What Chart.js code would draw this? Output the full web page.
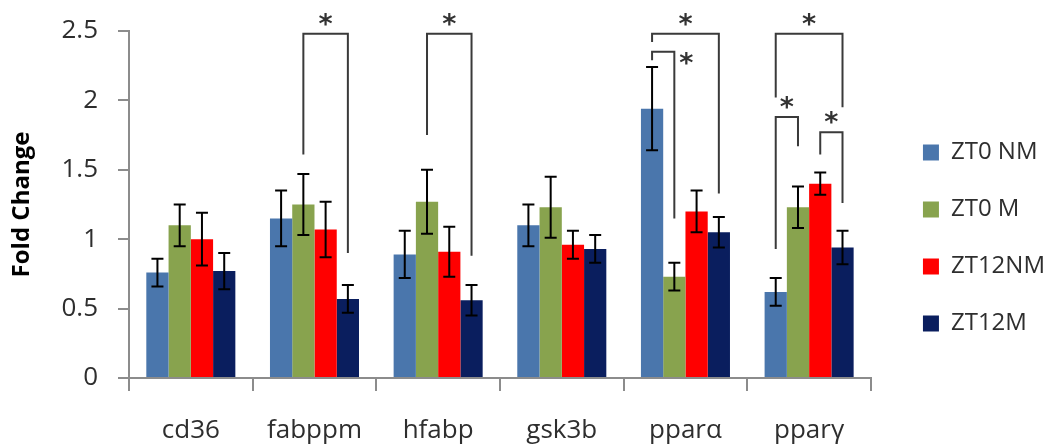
<!DOCTYPE html>
<html>
<head>
<meta charset="utf-8">
<script src="https://cdn.jsdelivr.net/npm/chart.js@4"></script>
<style>
  html, body { margin: 0; padding: 0; background: #fff; }
  #wrap { width: 1053px; height: 445px; }
</style>
</head>
<body>
<div id="wrap"><canvas id="foldChart"></canvas></div>
<script>
// Values
const categories = ['cd36', 'fabppm', 'hfabp', 'gsk3b', 'pparα', 'pparγ'];
const seriesNames = ['ZT0 NM', 'ZT0 M', 'ZT12NM', 'ZT12M'];
const zt0NM = [0.76, 1.15, 0.89, 1.10, 1.94, 0.62];
const zt0M = [1.10, 1.25, 1.27, 1.23, 0.73, 1.23];
const zt12NM = [1.00, 1.07, 0.91, 0.96, 1.20, 1.40];
const zt12M = [0.77, 0.57, 0.56, 0.93, 1.05, 0.94];
const zt0NMErr = [0.10, 0.20, 0.17, 0.15, 0.30, 0.10];
const zt0MErr = [0.15, 0.22, 0.23, 0.22, 0.10, 0.15];
const zt12NMErr = [0.19, 0.20, 0.18, 0.10, 0.15, 0.08];
const zt12MErr = [0.13, 0.10, 0.11, 0.10, 0.11, 0.12];
const yTicks = [0, 0.5, 1, 1.5, 2, 2.5];

// significance brackets: category, bar from/to, top value, leg end values
const brackets = [
  { cat: 1, from: 1, to: 3, top: 2.48, fromEnd: 1.61, toEnd: 0.90, star: 'top' },
  { cat: 2, from: 1, to: 3, top: 2.48, fromEnd: 1.75, toEnd: 0.88, star: 'top' },
  { cat: 4, from: 0, to: 3, top: 2.48, fromEnd: 2.42, toEnd: 1.33, star: 'top' },
  { cat: 4, from: 0, to: 1, top: 2.35, fromEnd: 2.29, toEnd: 1.15, star: 'right' },
  { cat: 5, from: 0, to: 3, top: 2.48, fromEnd: 2.02, toEnd: 1.95, star: 'top' },
  { cat: 5, from: 0, to: 1, top: 1.88, fromEnd: 0.93, toEnd: 1.67, star: 'top' },
  { cat: 5, from: 2, to: 3, top: 1.77, fromEnd: 1.61, toEnd: 1.26, star: 'top' },
];

const colors = ['#4A76AC', '#88A34E', '#FF0000', '#0A1E5E'];
const values = [zt0NM, zt0M, zt12NM, zt12M];
const errors = [zt0NMErr, zt0MErr, zt12NMErr, zt12MErr];
const axisGray = '#8C8C8C';
const textColor = '#2e2e2e';

// error bars + brackets drawn after datasets
const annotations = {
  id: 'annotations',
  afterLayout(chart) {
    // push the legend a bit away from the plot
    chart.legend.left += 19;
    chart.legend.right += 19;
  },
  afterDatasetsDraw(chart) {
    const c = chart.ctx;
    const y = chart.scales.y;
    c.save();
    c.strokeStyle = '#000';
    c.lineWidth = 2;
    values.forEach((vals, di) => {
      const meta = chart.getDatasetMeta(di);
      meta.data.forEach((bar, i) => {
        const yt = y.getPixelForValue(vals[i] + errors[di][i]);
        const yb = y.getPixelForValue(vals[i] - errors[di][i]);
        c.beginPath();
        c.moveTo(bar.x, yt); c.lineTo(bar.x, yb);
        c.moveTo(bar.x - 6, yt); c.lineTo(bar.x + 6, yt);
        c.moveTo(bar.x - 6, yb); c.lineTo(bar.x + 6, yb);
        c.stroke();
      });
    });
    c.strokeStyle = '#3a3a3a';
    c.fillStyle = '#333';
    c.font = 'bold 27px "DejaVu Sans"';
    c.textAlign = 'center';
    c.textBaseline = 'alphabetic';
    brackets.forEach(b => {
      const x1 = chart.getDatasetMeta(b.from).data[b.cat].x;
      const x2 = chart.getDatasetMeta(b.to).data[b.cat].x;
      const yTop = y.getPixelForValue(b.top);
      c.beginPath();
      c.moveTo(x1, y.getPixelForValue(b.fromEnd));
      c.lineTo(x1, yTop);
      c.lineTo(x2, yTop);
      c.lineTo(x2, y.getPixelForValue(b.toEnd));
      c.stroke();
      if (b.star === 'top') c.fillText('*', (x1 + x2) / 2, yTop - 1);
      else c.fillText('*', x2 + 12, yTop + 20);
    });
    c.restore();
  },
};

new Chart(document.getElementById('foldChart'), {
  type: 'bar',
  data: {
    labels: categories,
    datasets: seriesNames.map((name, i) => ({
      label: name,
      data: values[i],
      backgroundColor: colors[i],
      borderWidth: 0,
      barPercentage: 1,
      categoryPercentage: 0.72,
    })),
  },
  options: {
    responsive: true,
    maintainAspectRatio: false,
    animation: false,
    layout: { padding: { top: 31, right: 17, bottom: 0, left: 0 } },
    plugins: {
      tooltip: { enabled: false },
      legend: {
        position: 'right',
        labels: {
          boxWidth: 16,
          boxHeight: 16,
          padding: 33,
          color: textColor,
          font: { family: 'Open Sans', size: 24 },
        },
      },
    },
    scales: {
      x: {
        offset: true,
        grid: { offset: true, drawOnChartArea: false, color: axisGray, lineWidth: 2, tickLength: 13 },
        border: { color: axisGray, width: 2 },
        ticks: { color: textColor, font: { family: 'Open Sans', size: 26 }, padding: 24 },
        afterFit(scale) { scale.height = 67; },
      },
      y: {
        min: 0,
        max: 2.5,
        afterBuildTicks(scale) { scale.ticks = yTicks.map(v => ({ value: v })); },
        grid: { drawOnChartArea: false, color: axisGray, lineWidth: 2, tickLength: 11 },
        border: { color: axisGray, width: 2 },
        ticks: {
          color: textColor,
          font: { family: 'Open Sans', size: 26 },
          padding: 20,
          callback: v => String(v),
        },
        title: {
          display: true,
          text: 'Fold Change',
          color: '#000',
          font: { family: 'Open Sans', size: 24, weight: 'bold' },
          padding: { top: 8, bottom: 0 },
        },
        afterFit(scale) {
          scale.width = 129;
          scale.paddingTop = 0;
          scale.paddingBottom = 0;
        },
      },
    },
  },
  plugins: [annotations],
});
</script>
</body>
</html>
